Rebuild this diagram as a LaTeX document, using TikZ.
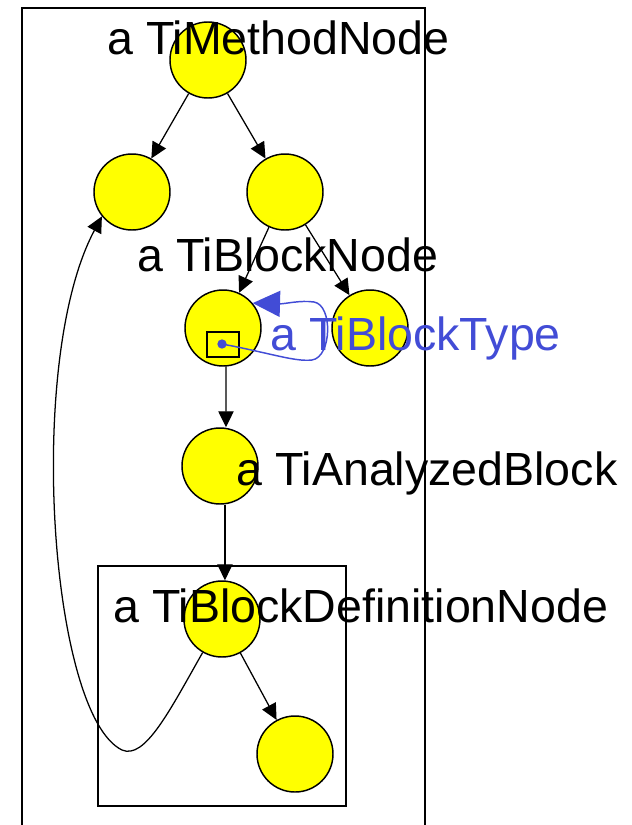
\documentclass[tikz,border=0pt]{standalone}
\usepackage{fontspec}
\setmainfont{Liberation Sans}
\usetikzlibrary{arrows.meta}
\definecolor{tiblue}{RGB}{66,76,214}
\definecolor{objfill}{RGB}{255,255,0}
\tikzset{
  obj/.style={circle, draw, fill=objfill, line width=1.1pt, minimum size=57pt, inner sep=0pt},
  lbl/.style={anchor=base west, inner sep=0pt, font=\fontsize{34.9}{40}\selectfont},
  link/.style={line width=0.95pt, -{Triangle[length=12pt,width=11.5pt]}},
  frame/.style={draw, line width=1.1pt},
}
\begin{document}
\begin{tikzpicture}[x=0.75pt,y=-0.75pt]
  \clip (0,0) rectangle (632,825);
  % enclosing frames
  \draw[frame] (22,8) rectangle (425,840);
  \draw[frame] (98,566) rectangle (346,806);

  % object nodes
  \node[obj] (m)  at (208,60)  {};
  \node[obj] (l1) at (132,192) {};
  \node[obj] (r1) at (285,192) {};
  \node[obj] (b)  at (223,328) {};
  \node[obj] (b2) at (370,328) {};
  \node[obj] (an) at (220,466) {};
  \node[obj] (d)  at (222,619) {};
  \node[obj] (dr) at (295,754) {};

  % references between objects
  \draw[link] (m) -- (l1);
  \draw[link] (m) -- (r1);
  \draw[link] (r1) -- (b);
  \draw[link] (r1) -- (b2);
  \draw[link] ([xshift=2.2pt]b.south) -- ([xshift=4.5pt]an.north);
  \draw[link] ([xshift=3.7pt]an.south) -- ([xshift=2.2pt]d.north);
  \draw[link] (d) -- (dr);
  \draw[link] (d.240) .. controls (170,710) and (145,760) .. (122,750)
                      .. controls (50,715) and (25,360) .. (l1.219);

  % block type slot
  \node[draw, line width=1.1pt, minimum width=24pt, minimum height=19pt, inner sep=0pt] (slot) at (223,344.5) {};
  \node[circle, fill=tiblue, minimum size=7pt, inner sep=0pt] (dot) at (222,344) {};
  \draw[tiblue, line width=1.1pt, -{Triangle[length=20.5pt,width=19.5pt]}]
    (dot.center) .. controls (270,353) and (295,362) .. (312,360)
    .. controls (332,357) and (333,305) .. (314,302)
    .. controls (300,300) and (285,304) .. (b.40);

  % labels
  \node[lbl] (tm) at (107,54) {a TiMethodNode};
  \node[lbl] (tb) at (137,271) {a TiBlockNode};
  \node[lbl, text=tiblue] (tt) at (270,350) {a TiBlockType};
  \node[lbl] (ta) at (236,485) {a TiAnalyzedBlock};
  \node[lbl] (td) at (113,622) {a TiBlockDefinitionNode};
\end{tikzpicture}
\end{document}
